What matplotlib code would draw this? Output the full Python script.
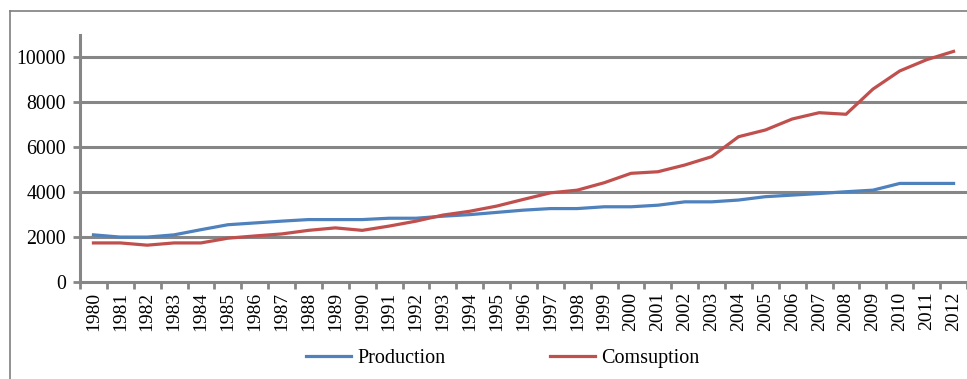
import numpy as np
import matplotlib
matplotlib.use("Agg")
from matplotlib import pyplot as plt
from matplotlib.lines import Line2D

years = [str(y) for y in range(1980, 2013)]

# Annual production and consumption
production = [2100, 2000, 2000, 2100, 2330, 2550, 2630, 2710, 2780, 2780,
              2780, 2840, 2840, 2930, 3000, 3100, 3200, 3270, 3270, 3350,
              3350, 3420, 3570, 3570, 3650, 3800, 3870, 3940, 4020, 4090,
              4390, 4390, 4390]
consumption = [1740, 1740, 1640, 1740, 1740, 1950, 2050, 2140, 2300, 2410,
               2300, 2490, 2710, 2980, 3150, 3380, 3680, 3970, 4090, 4420,
               4840, 4910, 5210, 5580, 6470, 6770, 7260, 7540, 7470, 8590,
               9400, 9900, 10270]

yticks = [0, 2000, 4000, 6000, 8000, 10000]

BLUE = "#4F81BD"
RED = "#C0504D"
GRID = "#868686"

plt.rcParams["font.family"] = ["Liberation Serif", "DejaVu Serif"]

fig = plt.figure(figsize=(9.67, 3.79), dpi=100)
ax = fig.add_axes([80 / 967, 1 - 282 / 379, 887 / 967, (282 - 35) / 379])

x = np.arange(len(years))
ax.plot(x, production, color=BLUE, lw=2.3, label="Production", zorder=3)
ax.plot(x, consumption, color=RED, lw=2.3, label="Comsuption", zorder=3)

ax.set_xlim(-0.5, len(years) - 0.5)
ax.set_ylim(0, 11000)

ax.set_yticks(yticks)
ax.set_yticklabels([str(v) for v in yticks], fontsize=14.3)
ax.set_xticks(x)
ax.set_xticklabels(years, rotation=90, fontsize=14)
ax.set_xticks(np.arange(len(years) + 1) - 0.5, minor=True)
ax.tick_params(axis="x", which="major", length=0, pad=7)
ax.tick_params(axis="x", which="minor", length=5, width=2, color=GRID)
ax.tick_params(axis="y", length=5, width=2, color=GRID, pad=5)

for v in yticks[1:]:
    ax.axhline(v, color=GRID, lw=2.2, zorder=1)

for side in ("top", "right"):
    ax.spines[side].set_visible(False)
for side in ("left", "bottom"):
    ax.spines[side].set_color(GRID)
    ax.spines[side].set_linewidth(2.2)

# chart frame
fig.add_artist(Line2D([10 / 967, 10 / 967], [0, 1 - 11 / 379],
                      transform=fig.transFigure, color="#7f7f7f", lw=1.2))
fig.add_artist(Line2D([10 / 967, 1], [1 - 11 / 379, 1 - 11 / 379],
                      transform=fig.transFigure, color="#7f7f7f", lw=1.2))

fig.legend(loc="center", bbox_to_anchor=(0.52, 1 - 358 / 379), ncol=2,
           frameon=False, fontsize=14.5, handlelength=2.24, handletextpad=0.3,
           columnspacing=5.2)

fig.savefig("out.png", dpi=100)
